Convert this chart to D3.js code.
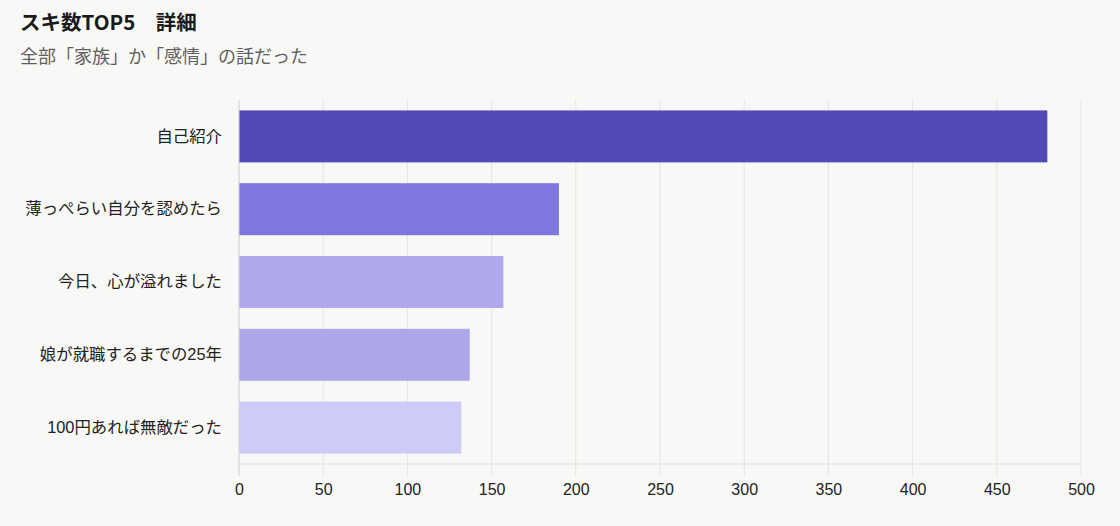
<!DOCTYPE html>
<html>
<head>
<meta charset="utf-8">
<script src="https://cdn.jsdelivr.net/npm/d3@7"></script>
<style>
  body { margin: 0; background: #f8f8f6; }
  svg { display: block; font-family: "Liberation Sans", "Noto Sans CJK JP", sans-serif; }
</style>
</head>
<body>
<svg id="chart"></svg>
<script>
const titleText = "スキ数TOP5　詳細";
const subtitleText = "全部「家族」か「感情」の話だった";
const categories = ["自己紹介", "薄っぺらい自分を認めたら", "今日、心が溢れました", "娘が就職するまでの25年", "100円あれば無敵だった"];
const sukiValues = [480, 190, 157, 137, 132];
const barColors = ["#534ab7", "#7f77dd", "#afa9ec", "#ada6e8", "#cecbf6"];
const xTicks = [0, 50, 100, 150, 200, 250, 300, 350, 400, 450, 500];

const W = 1120, H = 526;
const margin = {top: 100, right: 39, bottom: 62, left: 239};
const width = W - margin.left - margin.right,
      height = H - margin.top - margin.bottom;

const svg = d3.select("#chart").attr("width", W).attr("height", H);

svg.append("text")
  .attr("x", 20).attr("y", 30)
  .style("font-family", "'Noto Sans CJK JP', sans-serif")
  .style("font-size", "20.5px").style("font-weight", "bold")
  .style("fill", "#1a1a1a")
  .text(titleText);

svg.append("text")
  .attr("x", 20).attr("y", 63)
  .style("font-family", "'Noto Sans CJK JP', sans-serif")
  .style("font-size", "18px")
  .style("fill", "#5f5f5f")
  .text(subtitleText);

const g = svg.append("g").attr("transform", `translate(${margin.left},${margin.top})`);

const x = d3.scaleLinear().domain([0, 500]).range([0, width]);
const y = d3.scaleBand().domain(categories).range([0, height])
  .paddingInner(0.286).paddingOuter(0.143);

// grid
g.selectAll(".grid")
  .data(xTicks)
  .enter().append("line")
  .attr("x1", d => x(d)).attr("x2", d => x(d))
  .attr("y1", 0).attr("y2", height + 12)
  .style("stroke", "#e4e4e2").style("stroke-width", 1);

// bottom axis line
g.append("line")
  .attr("x1", 0).attr("x2", width)
  .attr("y1", height).attr("y2", height)
  .style("stroke", "#dcdcda");

// bars
g.selectAll(".bar")
  .data(categories)
  .enter().append("rect")
  .attr("x", x(0))
  .attr("y", d => y(d))
  .attr("height", y.bandwidth())
  .attr("width", (d, i) => x(sukiValues[i]) - x(0))
  .style("fill", (d, i) => barColors[i]);

// left axis line
g.append("line")
  .attr("x1", 0).attr("x2", 0)
  .attr("y1", 0).attr("y2", height + 12)
  .style("stroke", "#d8d8d6");

// x axis labels
const xAxis = d3.axisBottom(x).tickValues(xTicks).tickSize(0).tickPadding(20);
const xg = g.append("g").attr("transform", `translate(0,${height})`).call(xAxis);
xg.select(".domain").remove();
xg.selectAll("text").style("font-size", "16px").style("fill", "#222")
  .style("font-family", "'Liberation Sans', sans-serif");

// y axis labels
const yAxis = d3.axisLeft(y).tickSize(0).tickPadding(17);
const yg = g.append("g").call(yAxis);
yg.select(".domain").remove();
yg.selectAll("text").style("font-size", "16.4px").style("fill", "#222")
  .style("font-family", "'Liberation Sans', 'Noto Sans CJK JP', sans-serif");
</script>
</body>
</html>
